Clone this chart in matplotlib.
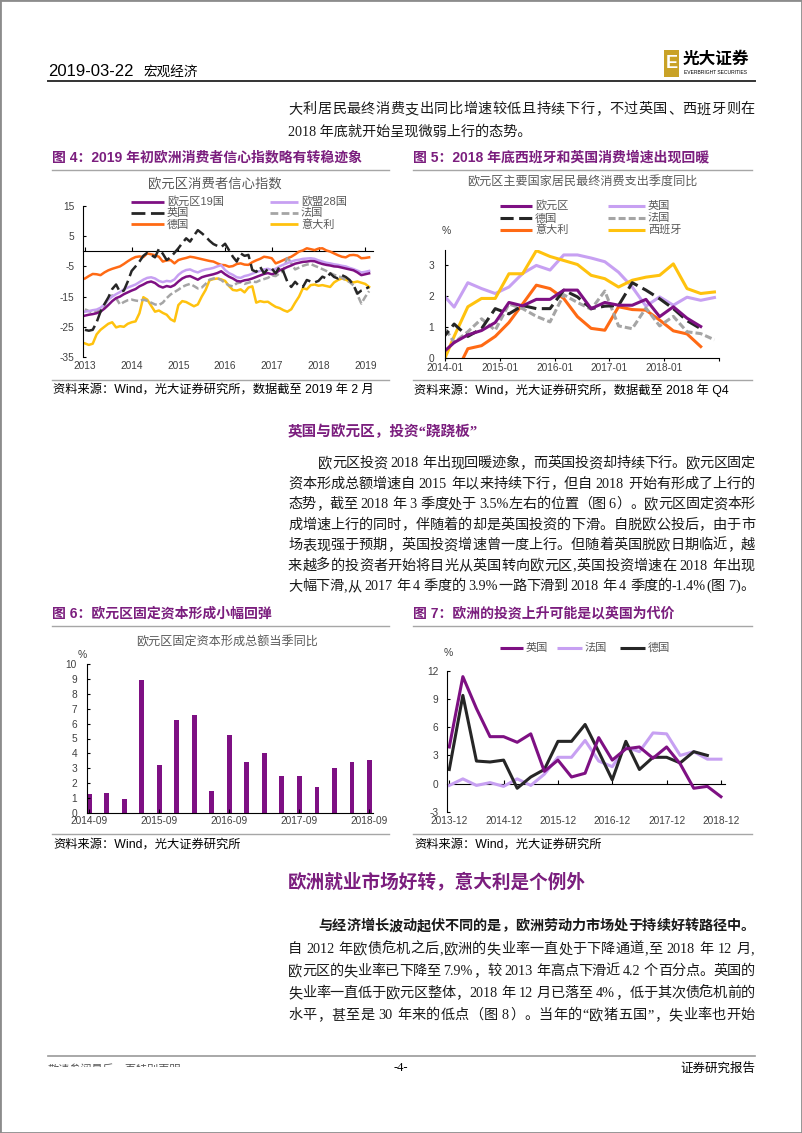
import re
import matplotlib
matplotlib.use("Agg")
import matplotlib.pyplot as plt
import pandas as pd
from matplotlib.lines import Line2D
from matplotlib.patches import Rectangle
from matplotlib.transforms import Bbox

plt.rcParams["font.family"] = ["Liberation Sans", "Noto Sans CJK SC"]
plt.rcParams["axes.unicode_minus"] = False

# %% data, fig 4: consumer confidence, monthly from 2013-01
months4 = pd.date_range("2013-01-01", periods=74, freq="MS")
ez19 = [-21.3, -21.0, -20.8, -20.5, -20.0, -19.0, -17.8, -16.5, -15.5, -15.0, -14.2, -13.6,
        -13.0, -12.5, -11.6, -11.0, -10.3, -10.0, -10.5, -11.5, -12.0, -11.5, -11.8, -11.2,
        -10.0, -9.0, -8.4, -8.2, -8.8, -9.4, -8.6, -8.2, -7.9, -7.6, -7.2, -6.6,
        -7.6, -8.4, -9.0, -9.8, -10.0, -9.6, -9.4, -9.0, -8.5, -8.0, -7.5, -7.2,
        -7.6, -7.2, -6.3, -5.8, -5.2, -4.7, -4.1, -3.8, -3.5, -3.4, -3.2, -3.3,
        -3.8, -4.2, -4.5, -4.7, -5.0, -5.1, -5.4, -5.7, -6.0, -6.3, -7.0, -7.9,
        -7.6, -7.3]
eu28 = [-20.0, -19.8, -19.5, -19.3, -18.7, -17.6, -16.0, -15.0, -14.2, -13.5, -12.6, -12.0,
        -11.5, -11.0, -10.2, -9.4, -8.8, -8.6, -9.0, -9.8, -10.2, -9.8, -10.0, -9.3,
        -7.8, -6.8, -6.2, -6.0, -6.6, -7.0, -6.4, -6.0, -5.8, -5.5, -5.0, -4.6,
        -6.2, -7.2, -7.8, -8.6, -8.8, -8.2, -7.9, -7.4, -6.9, -6.5, -6.0, -5.8,
        -6.2, -5.8, -5.0, -4.4, -3.9, -3.4, -3.0, -2.8, -2.5, -2.4, -2.3, -2.5,
        -3.0, -3.4, -3.8, -4.0, -4.3, -4.5, -4.8, -5.0, -5.5, -5.9, -6.4, -7.0,
        -6.8, -6.5]
uk4 = [-26.0, -26.3, -26.0, -23.5, -20.0, -17.5, -15.3, -12.5, -11.0, -13.5, -13.0, -10.0,
       -6.5, -5.0, -3.4, -1.5, -0.5, -1.2, -2.0, 0.8, -0.8, -2.9, -2.0, -0.5,
       1.0, 2.7, 4.3, 3.2, 5.2, 7.0, 6.0, 4.9, 3.5, 2.4, 1.8, 1.4,
       2.5, 0.4, -1.8, -3.4, -0.7, -1.5, -1.2, -6.2, -6.8, -5.1, -7.3, -5.8,
       -5.7, -7.3, -5.1, -6.8, -10.1, -11.8, -10.1, -11.5, -11.8, -9.5, -10.0, -10.3,
       -9.8, -8.4, -9.0, -7.3, -8.5, -9.0, -7.9, -8.5, -9.5, -11.2, -14.0, -13.0,
       -12.5, -11.8]
fr4 = [-19.2, -19.8, -20.2, -20.0, -19.2, -18.0, -15.5, -14.6, -15.5, -17.6, -16.8, -16.2,
       -16.0, -16.3, -16.5, -16.0, -16.4, -17.0, -17.6, -17.8, -17.0, -15.5, -14.3, -13.5,
       -12.7, -11.8, -11.2, -10.8, -11.5, -12.3, -12.0, -10.8, -9.4, -9.0, -8.9, -9.5,
       -10.5, -11.3, -11.6, -10.6, -10.3, -10.8, -10.4, -10.0, -10.2, -9.6, -9.2, -8.8,
       -8.0, -8.2, -7.3, -6.6, -1.8, -4.0, -6.0, -5.4, -4.8, -4.4, -4.2, -4.8,
       -5.3, -5.9, -6.5, -7.2, -7.8, -8.2, -8.7, -9.6, -10.2, -11.3, -14.4, -17.3,
       -15.1, -13.2]
de4 = [-9.0, -8.2, -7.5, -7.6, -7.9, -7.0, -6.3, -5.8, -5.4, -5.0, -4.2, -3.3,
       -2.5, -1.9, -1.7, -1.9, -0.7, -1.0, -1.3, -1.8, -3.4, -3.0, -2.9, -4.0,
       -2.9, -2.5, -2.2, -1.8, -2.0, -2.3, -2.6, -2.9, -3.2, -3.4, -4.0, -4.5,
       -4.6, -5.1, -4.9, -4.2, -4.0, -4.4, -4.5, -3.6, -3.0, -2.5, -1.8, -2.0,
       -2.3, -4.0, -3.5, -2.9, -2.3, -1.8, -1.0, -0.1, 0.3, 1.0, 0.7, 0.4,
       0.9, 1.0, 0.3, -0.1, -0.7, -1.3, -1.8, -2.0, -1.3, -1.2, -1.4, -2.3,
       -2.2, -2.0]
it4 = [-30.5, -31.0, -30.6, -27.5, -26.0, -25.0, -24.0, -23.5, -25.2, -24.8, -25.0, -24.0,
       -23.5, -23.2, -20.5, -15.2, -16.0, -18.0, -20.0, -19.6, -20.4, -21.0, -22.5, -23.2,
       -17.8, -16.5, -16.8, -17.5, -18.2, -17.6, -15.0, -12.8, -9.6, -9.2, -9.0, -9.3,
       -9.8, -11.5, -12.8, -13.0, -12.6, -13.6, -12.0, -11.6, -17.0, -16.5, -16.8, -16.7,
       -17.6, -18.4, -18.8, -19.5, -20.0, -19.2, -17.0, -15.0, -12.2, -12.6, -11.2, -11.0,
       -11.4, -11.2, -11.5, -11.8, -10.3, -9.5, -9.0, -9.4, -10.0, -10.3, -10.0, -10.4,
       -10.8, -11.8]

# %% data, fig 5: household consumption yoy, quarterly (quarter-end months)
q5 = pd.date_range("2013-12-01", periods=21, freq="3MS")
ez5 = [0.1, 0.5, 0.75, 0.89, 1.15, 1.8, 1.69, 1.9, 1.9, 2.2, 2.2, 1.6, 1.8, 1.71, 1.71,
       1.9, 1.34, 1.66, 1.29, 1.02]
uk5 = [2.15, 1.65, 2.44, 2.25, 2.09, 2.3, 2.74, 3.0, 2.85, 3.34, 3.34, 3.24, 3.12, 2.78,
       2.3, 1.68, 1.98, 1.71, 1.97, 1.87, 1.96]
de5 = [0.55, 1.1, 0.7, 0.95, 1.6, 1.43, 1.7, 1.6, 1.6, 2.2, 1.98, 1.6, 1.68, 1.7, 2.44,
       2.2, 1.92, 1.6, 1.21, 0.95]
fr5 = [1.2, 0.5, 0.85, 1.27, 0.9, 1.75, 1.6, 1.35, 1.17, 2.05, 1.8, 1.58, 2.17, 1.04,
       0.95, 1.62, 1.04, 1.35, 0.85, 0.79, 0.59]
it5 = [-0.5, -0.6, 0.3, 0.4, 0.7, 1.15, 1.75, 2.36, 2.25, 1.93, 1.34, 0.96, 0.9, 1.66,
       1.57, 1.55, 1.23, 0.88, 0.78, 0.37]
es5 = [-0.35, 0.7, 1.66, 1.93, 1.93, 2.73, 2.73, 3.48, 3.29, 3.16, 3.03, 2.68, 2.57, 2.3,
       2.52, 2.62, 2.68, 3.05, 2.25, 2.09, 2.14]

# %% data, fig 6: euro area GFCF yoy
q6 = ["2014-09", "2014-12", "2015-03", "2015-06", "2015-09", "2015-12", "2016-03",
      "2016-06", "2016-09", "2016-12", "2017-03", "2017-06", "2017-09", "2017-12",
      "2018-03", "2018-06", "2018-09"]
gfcf = [1.3, 1.35, 0.95, 8.95, 3.25, 6.25, 6.55, 1.45, 5.25, 3.45, 4.05, 2.45, 2.45, 1.75,
        3.05, 3.45, 3.55]

# %% data, fig 7: investment yoy
q7 = ["2013-12", "2014-03", "2014-06", "2014-09", "2014-12", "2015-03", "2015-06",
      "2015-09", "2015-12", "2016-03", "2016-06", "2016-09", "2016-12", "2017-03",
      "2017-06", "2017-09", "2017-12", "2018-03", "2018-06", "2018-09", "2018-12"]
uk7 = [3.9, 11.4, 8.0, 5.0, 5.0, 4.4, 5.3, 1.3, 2.5, 0.7, 1.1, 4.9, 2.5, 3.7, 3.9, 2.7,
       3.9, 2.1, -0.5, -0.3, -1.4]
fr7 = [-0.2, 0.5, -0.2, 0.1, -0.3, 0.5, -0.2, 1.0, 2.8, 2.8, 4.6, 2.4, 1.8, 3.9, 3.4, 5.4,
       5.3, 3.0, 3.4, 2.6, 2.6]
de7 = [1.5, 9.4, 2.4, 2.3, 2.5, -0.5, 0.7, 1.5, 4.5, 4.5, 6.3, 3.4, 0.4, 4.5, 1.5, 2.8,
       2.8, 2.2, 3.4, 3.0]

PURPLE = "#7E1083"
LILAC = "#C7A0F2"
ORANGE = "#FF6A14"
YELLOW = "#FFC20E"
GREY = "#A5A5A5"
BLACK = "#262626"
TITLE = "#7B1E7E"
TICK = "#404040"
BODY = ["Liberation Serif", "Noto Sans CJK SC"]
PT = 100 / 72

W, H = 802, 1133
fig = plt.figure(figsize=(W / 100, H / 100), dpi=100)
renderer = fig.canvas.get_renderer()


def fx(x):
    return x / W


def fy(y):
    return 1 - y / H


def add_ax(l, t, r, b):
    return fig.add_axes([fx(l), fy(b), (r - l) / W, (b - t) / H])


def hline(x0, x1, y, color="#A6A6A6", lw=1.0):
    fig.add_artist(Line2D([fx(x0), fx(x1)], [fy(y), fy(y)], transform=fig.transFigure,
                          color=color, lw=lw))


def key(x0, x1, y, label, size=8, **style):
    fig.add_artist(Line2D([fx(x0), fx(x1)], [fy(y), fy(y)], transform=fig.transFigure,
                          solid_capstyle="butt", dash_capstyle="butt", **style))
    fig.text(fx(x1 + 3), fy(y), label, fontsize=size, color="#595959", va="center")


def body_line(s, x0, y, x1=None, size=10.2, weight="normal", color="#1a1a1a"):
    base = fy(y + 0.36 * size * PT)
    kw = dict(fontsize=size, fontweight=weight, color=color, family=BODY, va="baseline")
    if x1 is None:
        fig.text(fx(x0), base, s, **kw)
        return
    em = size * PT
    items = []
    for t in re.findall(r"[0-9A-Za-z.%\-]+|.", s):
        if t == " ":
            items.append((None, 0.25 * em))
            continue
        a = fig.text(0, base, t, **kw)
        w = em if ord(t[0]) >= 0x2E80 else a.get_window_extent(renderer).width + 0.06 * em
        items.append((a, w))
    gap = (x1 - x0 - sum(w for _, w in items)) / (len(items) - 1)
    x = x0
    for a, w in items:
        if a is not None:
            a.set_x(fx(x))
        x += w + gap


def fig_title(x, y, s):
    fig.text(fx(x), fy(y), s, fontsize=10, fontweight="bold", color=TITLE, va="center")


def source(x0, x1, y_line, y_text, s):
    hline(x0, x1, y_line)
    fig.text(fx(x0 + 1), fy(y_text), s, fontsize=8.8, color="black", va="center")


def base_style(ax, ypad):
    for s in ["top", "right"]:
        ax.spines[s].set_visible(False)
    ax.spines["left"].set_color("black")
    ax.tick_params(axis="y", direction="in", length=2.5, pad=ypad, labelsize=7.3,
                   labelcolor=TICK)
    ax.tick_params(axis="x", labelsize=7.3, labelcolor=TICK)


def zero_axis(ax, ticks):
    y0, y1 = ax.get_ylim()
    sec = ax.secondary_xaxis((0 - y0) / (y1 - y0))
    sec.set_alignment("bottom")
    sec.set_ticks(ticks)
    sec.tick_params(direction="in", length=3, labelbottom=False, labeltop=False,
                    color="black")
    sec.spines["bottom"].set_color("black")
    ax.spines["bottom"].set_visible(False)


# %% page header
fig.add_artist(Rectangle((0, 0), 1, 1, transform=fig.transFigure, fill=False,
                         ec="#8c8c8c", lw=2))
fig.text(fx(48), fy(72), "2019-03-22", fontsize=12,
         family=["Liberation Sans Narrow", "Liberation Sans"], va="center")
fig.text(fx(143), fy(72), "宏观经济", fontsize=9.8, family=["Noto Sans CJK SC"], va="center")
hline(48, 755, 81, color="#333333", lw=1.4)
fig.add_artist(Rectangle((fx(664), fy(77)), 15 / W, 27 / H, transform=fig.transFigure,
                         fc="#C9A227", ec="none"))
fig.text(fx(671.5), fy(63.5), "E", fontsize=13, fontweight="bold", color="white",
         ha="center", va="center")
fig.text(fx(683), fy(59), "光大证券", fontsize=12, fontweight="bold",
         family=["Noto Sans CJK SC"], va="center")
fig.text(fx(684), fy(73), "EVERBRIGHT SECURITIES", fontsize=3.6, va="center")

body_line("大利居民最终消费支出同比增速较低且持续下行，不过英国、西班牙则在", 288, 108, 755)
body_line("2018 年底就开始呈现微弱上行的态势。", 288, 130)

# %% fig 4
fig_title(52, 157, "图 4：2019 年初欧洲消费者信心指数略有转稳迹象")
hline(52, 389, 170.5)
fig.text(fx(215), fy(184), "欧元区消费者信心指数", fontsize=9.6, color="#595959",
         ha="center", va="center")
ax4 = add_ax(83, 206, 373, 357)
m4 = list(range(len(months4)))
ax4.plot(m4, it4, color=YELLOW, lw=1.8)
ax4.plot(m4, de4, color=ORANGE, lw=1.8)
ax4.plot(m4, fr4, color=GREY, lw=1.8, dashes=(2.8, 1.2))
ax4.plot(m4, eu28, color=LILAC, lw=1.8)
ax4.plot(m4, ez19, color=PURPLE, lw=1.8)
ax4.plot(m4, uk4, color=BLACK, lw=1.8, dashes=(5, 2))
ax4.set_xlim(-0.5, 74)
ax4.set_ylim(-35, 15)
ax4.set_yticks([15, 5, -5, -15, -25, -35])
year_pos = [i for i, d in enumerate(months4) if d.month == 1]
ax4.set_xticks(year_pos, [str(months4[i].year) for i in year_pos])
base_style(ax4, 6)
ax4.tick_params(axis="x", length=0, pad=3)
zero_axis(ax4, year_pos)
key(131, 164, 201.7, "欧元区19国", color=PURPLE, lw=2)
key(270, 298, 201.7, "欧盟28国", color=LILAC, lw=2)
key(131, 164, 212.7, "英国", color=BLACK, lw=2, dashes=(5, 2))
key(270, 298, 212.7, "法国", color=GREY, lw=2, dashes=(2.8, 1.2))
key(131, 164, 224.3, "德国", color=ORANGE, lw=2)
key(270, 298, 224.3, "意大利", color=YELLOW, lw=2)
source(52, 389, 379.5, 390, "资料来源：Wind，光大证券研究所，数据截至 2019 年 2 月")

# %% fig 5
fig_title(413, 157, "图 5：2018 年底西班牙和英国消费增速出现回暖")
hline(413, 752, 170.5)
fig.text(fx(582), fy(183), "欧元区主要国家居民最终消费支出季度同比", fontsize=8.7,
         color="#595959", ha="center", va="center")
ax5 = add_ax(445, 250, 719, 358)
m5 = [(d.year - 2014) * 12 + d.month - 1 for d in q5]
ax5.plot(m5, uk5, color=LILAC, lw=2.2)
ax5.plot(m5, es5, color=YELLOW, lw=2.2)
ax5.plot(m5[:len(it5)], it5, color=ORANGE, lw=2.2)
ax5.plot(m5, fr5, color=GREY, lw=2.2, dashes=(2.3, 1.0))
ax5.plot(m5[:len(de5)], de5, color=BLACK, lw=2.2, dashes=(4.3, 1.8))
ax5.plot(m5[:len(ez5)], ez5, color=PURPLE, lw=2.2)
ax5.set_xlim(0, 60)
ax5.set_ylim(0, 3.5)
ax5.set_yticks([0, 1, 2, 3])
ax5.set_xticks([0, 12, 24, 36, 48, 60], ["2014-01", "2015-01", "2016-01", "2017-01",
                                         "2018-01", ""])
base_style(ax5, 8)
ax5.spines["bottom"].set_color("black")
ax5.tick_params(axis="x", direction="out", length=2.5, pad=1)
fig.text(fx(446.7), fy(230.7), "%", fontsize=7.5, color=TICK, ha="center", va="center")
key(500, 532, 205.7, "欧元区", color=PURPLE, lw=2.2)
key(608, 645, 205.7, "英国", color=LILAC, lw=2.2)
key(500, 532, 218.3, "德国", color=BLACK, lw=2.2, dashes=(4.3, 1.8))
key(608, 645, 218.3, "法国", color=GREY, lw=2.2, dashes=(2.3, 1.0))
key(500, 532, 230, "意大利", color=ORANGE, lw=2.2)
key(608, 645, 230, "西班牙", color=YELLOW, lw=2.2)
source(413, 752, 379.5, 390, "资料来源：Wind，光大证券研究所，数据截至 2018 年 Q4")

# %% section: investment
fig.text(fx(288), fy(432), "英国与欧元区，投资“跷跷板”", fontsize=10.5, fontweight="bold",
         color=TITLE, va="center", family=BODY)
para2 = ["欧元区投资 2018 年出现回暖迹象，而英国投资却持续下行。欧元区固定",
         "资本形成总额增速自 2015 年以来持续下行，但自 2018 开始有形成了上行的",
         "态势，截至 2018 年 3 季度处于 3.5%左右的位置（图 6）。欧元区固定资本形",
         "成增速上行的同时，伴随着的却是英国投资的下滑。自脱欧公投后，由于市",
         "场表现强于预期，英国投资增速曾一度上行。但随着英国脱欧日期临近，越",
         "来越多的投资者开始将目光从英国转向欧元区,英国投资增速在 2018 年出现",
         "大幅下滑,从 2017 年 4 季度的 3.9%一路下滑到 2018 年 4 季度的-1.4%(图 7)。"]
for i, line in enumerate(para2):
    body_line(line, 318 if i == 0 else 288, 462 + 20.5 * i, 755)

# %% fig 6
fig_title(52, 614, "图 6：欧元区固定资本形成小幅回弹")
hline(52, 389, 626)
fig.text(fx(227), fy(643), "欧元区固定资本形成总额当季同比", fontsize=8.7, color="#595959",
         ha="center", va="center")
ax6 = add_ax(86.7, 664, 373, 813)
ax6.bar(range(len(gfcf)), gfcf, width=0.28, color=PURPLE)
ax6.set_xlim(-0.15, 16.2)
ax6.set_ylim(0, 10)
ax6.set_yticks(range(0, 11))
ax6.set_xticks(range(0, len(q6), 4), q6[::4])
base_style(ax6, 7)
ax6.spines["bottom"].set_color("black")
ax6.tick_params(axis="x", direction="in", length=3, pad=2)
fig.text(fx(82), fy(655), "%", fontsize=7.5, color=TICK, ha="center", va="center")
source(52, 389, 834, 845, "资料来源：Wind，光大证券研究所")

# %% fig 7
fig_title(413, 614, "图 7：欧洲的投资上升可能是以英国为代价")
hline(413, 752, 626)
ax7 = add_ax(446.7, 671, 725, 811.7)
x7 = list(range(len(q7)))
ax7.plot(x7, fr7, color=LILAC, lw=2.2)
ax7.plot(x7[:len(de7)], de7, color=BLACK, lw=2.2)
ax7.plot(x7, uk7, color=PURPLE, lw=2.2)
ax7.set_xlim(-0.19, 20.3)
ax7.set_ylim(-3, 12)
ax7.set_yticks(range(-3, 13, 3))
ax7.set_xticks(range(0, len(q7), 4), q7[::4])
base_style(ax7, 6)
ax7.tick_params(axis="x", length=0, pad=3)
zero_axis(ax7, list(range(0, len(q7), 4)))
fig.text(fx(448), fy(653), "%", fontsize=7.5, color=TICK, ha="center", va="center")
key(500, 523, 647.7, "英国", color=PURPLE, lw=2.2)
key(557, 582, 647.7, "法国", color=LILAC, lw=2.2)
key(620, 645, 647.7, "德国", color=BLACK, lw=2.2)
source(413, 752, 834, 845, "资料来源：Wind，光大证券研究所")

# %% section: labour market
fig.text(fx(288), fy(882), "欧洲就业市场好转，意大利是个例外", fontsize=13.4, fontweight="bold",
         color=TITLE, va="center", family=BODY)
body_line("与经济增长波动起伏不同的是，欧洲劳动力市场处于持续好转路径中。", 318, 925, 755,
          weight="bold")
para3 = ["自 2012 年欧债危机之后,欧洲的失业率一直处于下降通道,至 2018 年 12 月,",
         "欧元区的失业率已下降至 7.9%，较 2013 年高点下滑近 4.2 个百分点。英国的",
         "失业率一直低于欧元区整体，2018 年 12 月已落至 4%，低于其次债危机前的",
         "水平，甚至是 30 年来的低点（图 8）。当年的“欧猪五国”，失业率也开始"]
for i, line in enumerate(para3):
    body_line(line, 288, 948 + 22 * i, 755)

# %% footer
hline(48, 755, 1056, color="#999999", lw=1.2)
foot = fig.text(fx(48), fy(1070), "敬请参阅最后一页特别声明", fontsize=8, color="#555555",
                va="center", family=["Noto Sans CJK SC"])
foot.set_clip_box(Bbox([[0, H - 1067], [W, H]]))
foot.set_clip_on(True)
fig.text(fx(401), fy(1068), "-4-", fontsize=9, ha="center", va="center", family=BODY)
fig.text(fx(755), fy(1068), "证券研究报告", fontsize=9, ha="right", va="center",
         family=["Noto Sans CJK SC"])

fig.savefig("out.png", dpi=100)
